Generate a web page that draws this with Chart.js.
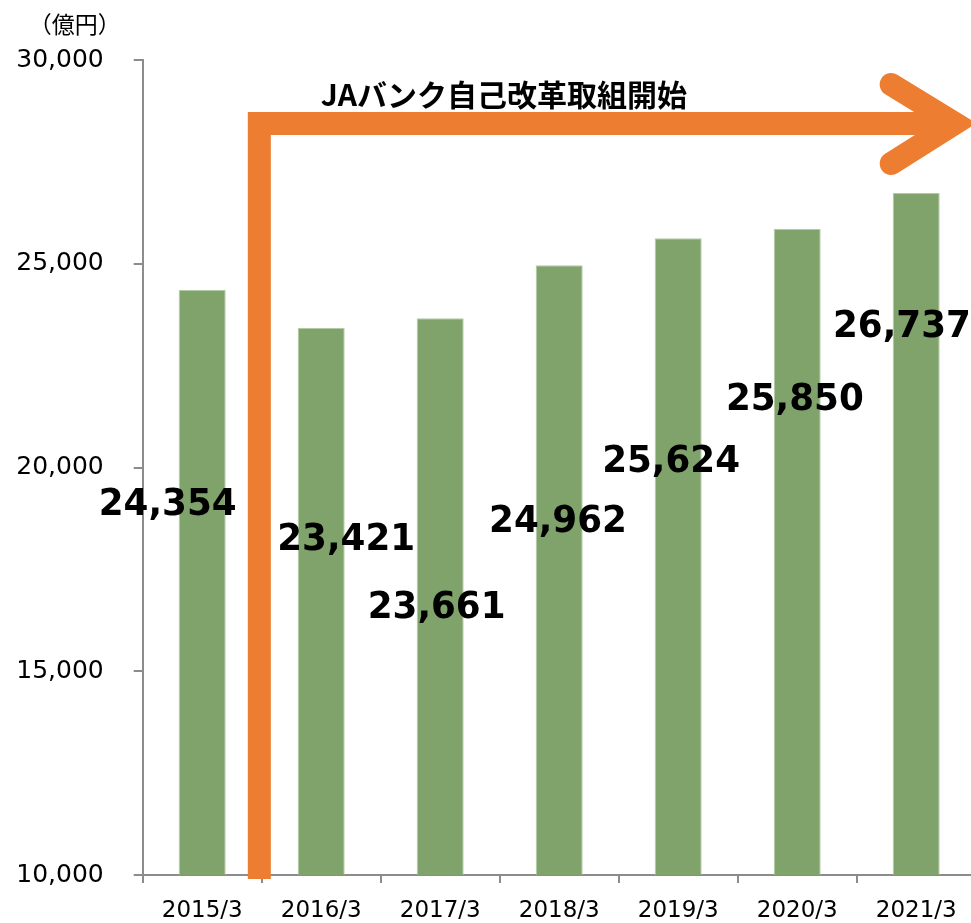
<!DOCTYPE html>
<html><head><meta charset="utf-8">
<script src="https://cdn.jsdelivr.net/npm/chart.js@4.4.1/dist/chart.umd.min.js"></script>
<style>html,body{margin:0;padding:0;overflow:hidden;background:#fff}#wrap{width:971px;height:923px;overflow:hidden}</style>
</head><body><div id="wrap"><canvas id="c" width="980" height="923"></canvas></div>
<script>
// ---- data ----
const categories = ['2015/3', '2016/3', '2017/3', '2018/3', '2019/3', '2020/3', '2021/3'];
const depositValues = [24354, 23421, 23661, 24962, 25624, 25850, 26737];
const yTickValues = [10000, 15000, 20000, 25000, 30000];
const unitLabel = '（億円）';
const bannerText = 'JAバンク自己改革取組開始';

// ---- annotation placement, in axis units (category index, value) ----
const labelAnchorIndex = [-0.29, 1.21, 1.97, 2.99, 3.94, 4.98, 5.88];
const labelAnchorValue = [19070, 18220, 16550, 18660, 20135, 21655, 23450];
const arrowShaftIndex = [0.48, 0.48, 6.30];
const arrowShaftValue = [9902, 28442, 28442];
const arrowHeadIndex = [5.79, 6.324, 5.79];
const arrowHeadValue = [29399, 28442, 27460];
const bannerIndex = 2.535, bannerValue = 29141;

const GREEN = '#7fa36b', ORANGE = '#ed7d31', AXIS = '#8c8c8c';
const fmt = v => v.toLocaleString('en-US');

const overlay = {
  id: 'overlay',
  afterDraw(chart) {
    const ctx = chart.ctx, xs = chart.scales.x, ys = chart.scales.y;
    const px = i => xs.getPixelForValue(0) + i * (xs.getPixelForValue(1) - xs.getPixelForValue(0));
    const py = v => ys.getPixelForValue(v);
    ctx.save();
    // value labels
    ctx.fillStyle = '#000';
    ctx.textAlign = 'center';
    ctx.textBaseline = 'middle';
    ctx.font = 'bold 38px "DejaVu Sans"';
    depositValues.forEach((v, i) => {
      ctx.save();
      ctx.translate(px(labelAnchorIndex[i]), py(labelAnchorValue[i]));
      ctx.scale(0.94, 1);
      ctx.fillText(fmt(v), 0, 0);
      ctx.restore();
    });
    // orange arrow
    ctx.strokeStyle = ORANGE;
    ctx.lineWidth = 23;
    ctx.lineJoin = 'miter';
    ctx.lineCap = 'butt';
    ctx.beginPath();
    arrowShaftIndex.forEach((ix, k) => {
      const x = px(ix), y = py(arrowShaftValue[k]);
      k ? ctx.lineTo(x, y) : ctx.moveTo(x, y);
    });
    ctx.stroke();
    ctx.lineCap = 'round';
    ctx.beginPath();
    arrowHeadIndex.forEach((ix, k) => {
      const x = px(ix), y = py(arrowHeadValue[k]);
      k ? ctx.lineTo(x, y) : ctx.moveTo(x, y);
    });
    ctx.stroke();
    // banner
    ctx.fillStyle = '#000';
    ctx.font = 'bold 30px "Noto Sans CJK JP"';
    ctx.fillText(bannerText, px(bannerIndex), py(bannerValue));
    // unit label
    ctx.font = '23px "Noto Sans CJK JP"';
    ctx.fillText(unitLabel, chart.chartArea.left - 68, 24);
    ctx.restore();
  }
};

new Chart(document.getElementById('c'), {
  type: 'bar',
  data: {
    labels: categories,
    datasets: [{
      data: depositValues,
      backgroundColor: GREEN,
      borderColor: '#b3cba5',
      borderWidth: 1,
      barPercentage: 0.395,
      categoryPercentage: 1
    }]
  },
  options: {
    responsive: false,
    animation: false,
    layout: { padding: { top: 60, right: 4.3, left: 0, bottom: 0 } },
    plugins: { legend: { display: false }, tooltip: { enabled: false } },
    scales: {
      x: {
        offset: true,
        grid: { offset: true, drawOnChartArea: false, drawTicks: true, tickLength: 8, color: AXIS, lineWidth: 2 },
        border: { display: true, color: AXIS, width: 2 },
        ticks: { font: { family: 'DejaVu Sans', size: 23 }, color: '#000', padding: 14, maxRotation: 0, autoSkip: false },
        afterFit: s => { s.height = 48; }
      },
      y: {
        min: 10000, max: 30000,
        afterBuildTicks: s => { s.ticks = yTickValues.map(v => ({ value: v })); },
        grid: { drawOnChartArea: false, drawTicks: true, tickLength: 9, color: AXIS, lineWidth: 2 },
        border: { display: true, color: AXIS, width: 2 },
        ticks: { font: { family: 'DejaVu Sans', size: 25 }, color: '#000', padding: 30, callback: v => fmt(v) },
        afterFit: s => { s.width = 142.7; }
      }
    }
  },
  plugins: [overlay]
});
</script></body></html>
